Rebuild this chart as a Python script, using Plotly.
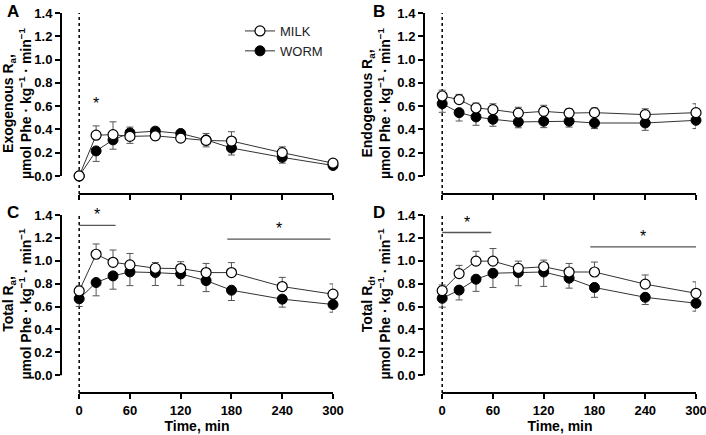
import plotly.graph_objects as go
from plotly.subplots import make_subplots

# Tempo (min)
times = [0, 20, 40, 60, 90, 120, 150, 180, 240, 300]

# A) Exogenous Ra
exo_milk = [0.00, 0.35, 0.355, 0.34, 0.345, 0.325, 0.305, 0.30, 0.20, 0.11]
exo_milk_up = [0, 0.08, 0.11, 0, 0, 0, 0.06, 0.08, 0.05, 0.03]
exo_milk_dn = [0, 0, 0, 0.06, 0.035, 0, 0, 0, 0, 0]
exo_worm = [0.00, 0.215, 0.31, 0.37, 0.385, 0.365, 0.31, 0.24, 0.16, 0.09]
exo_worm_up = [0, 0, 0, 0.05, 0, 0, 0, 0, 0, 0]
exo_worm_dn = [0, 0.09, 0.08, 0, 0, 0, 0.06, 0.06, 0.05, 0.03]

# B) Endogenous Ra
endo_milk = [0.687, 0.656, 0.584, 0.57, 0.54, 0.555, 0.54, 0.544, 0.527, 0.544]
endo_milk_up = [0.05, 0.045, 0.043, 0.05, 0.05, 0.052, 0.038, 0.04, 0.05, 0.076]
endo_worm = [0.621, 0.544, 0.507, 0.487, 0.464, 0.47, 0.47, 0.455, 0.455, 0.478]
endo_worm_dn = [0.074, 0.072, 0.072, 0.06, 0.05, 0.055, 0.05, 0.048, 0.063, 0.071]

# C) Total Ra
tra_milk = [0.737, 1.057, 0.987, 0.964, 0.935, 0.932, 0.897, 0.897, 0.775, 0.708]
tra_milk_up = [0.043, 0.09, 0.107, 0.10, 0.05, 0.06, 0.08, 0.087, 0.08, 0.09]
tra_worm = [0.668, 0.81, 0.868, 0.903, 0.897, 0.885, 0.827, 0.743, 0.665, 0.618]
tra_worm_dn = [0.067, 0.116, 0.116, 0.12, 0.113, 0.10, 0.096, 0.09, 0.07, 0.067]

# D) Total Rd
trd_milk = [0.739, 0.888, 0.997, 0.997, 0.934, 0.948, 0.902, 0.902, 0.796, 0.716]
trd_milk_up = [0.05, 0.072, 0.086, 0.11, 0.063, 0.058, 0.075, 0.087, 0.08, 0.10]
trd_worm = [0.672, 0.744, 0.839, 0.891, 0.897, 0.902, 0.848, 0.767, 0.681, 0.629]
trd_worm_dn = [0.077, 0.086, 0.106, 0.124, 0.115, 0.126, 0.087, 0.086, 0.063, 0.069]

# Significance bars: (x0, x1, y)
sig_C = [(0, 43, 1.31), (175, 297, 1.19)]
sig_D = [(0, 58, 1.247), (175, 300, 1.121)]
star_A = (20, 0.53)

ytitles = [
    "Exogenous R<sub>a</sub>,<br>µmol Phe · kg<sup>−1</sup> · min<sup>−1</sup>",
    "Endogenous R<sub>a</sub>,<br>µmol Phe · kg<sup>−1</sup> · min<sup>−1</sup>",
    "Total R<sub>a</sub>,<br>µmol Phe · kg<sup>−1</sup> · min<sup>−1</sup>",
    "Total R<sub>d</sub>,<br>µmol Phe · kg<sup>−1</sup> · min<sup>−1</sup>",
]

W, H = 706, 435
FONT = "Liberation Sans, Arial, sans-serif"

fig = make_subplots(rows=2, cols=2)

panels = [
    (1, 1, exo_milk, exo_milk_up, exo_milk_dn, exo_worm, exo_worm_up, exo_worm_dn),
    (1, 2, endo_milk, endo_milk_up, [0] * 10, endo_worm, [0] * 10, endo_worm_dn),
    (2, 1, tra_milk, tra_milk_up, [0] * 10, tra_worm, [0] * 10, tra_worm_dn),
    (2, 2, trd_milk, trd_milk_up, [0] * 10, trd_worm, [0] * 10, trd_worm_dn),
]

def err(up, dn):
    return dict(type="data", symmetric=False, array=up, arrayminus=dn,
                color="#555555", thickness=1, width=3.5)

for idx, (r, c, m, mu, md, w, wu, wd) in enumerate(panels):
    show = idx == 0
    fig.add_trace(go.Scatter(
        x=times, y=w, mode="lines+markers", name="WORM", showlegend=show,
        line=dict(color="#333333", width=1),
        marker=dict(symbol="circle", size=10, color="black", line=dict(color="black", width=1)),
        error_y=err(wu, wd), cliponaxis=False, legendrank=2,
    ), row=r, col=c)
    fig.add_trace(go.Scatter(
        x=times, y=m, mode="lines+markers", name="MILK", showlegend=show,
        line=dict(color="#333333", width=1),
        marker=dict(symbol="circle", size=10, color="white", line=dict(color="black", width=1.2)),
        error_y=err(mu, md), cliponaxis=False, legendrank=1,
    ), row=r, col=c)

# Domains (pixel based)
xdom_left = [61 / W, 333 / W]
xdom_right = [424 / W, 696 / W]
ydom_top = [1 - 194 / H, 1 - 13 / H]
ydom_bot = [1 - 393 / H, 1 - 215 / H]

axes = [("x", "y", xdom_left, ydom_top), ("x2", "y2", xdom_right, ydom_top),
        ("x3", "y3", xdom_left, ydom_bot), ("x4", "y4", xdom_right, ydom_bot)]

for i, (xa, ya, xd, yd) in enumerate(axes):
    bottom = i >= 2
    xkey = "xaxis" if xa == "x" else "xaxis" + xa[1:]
    ykey = "yaxis" if ya == "y" else "yaxis" + ya[1:]
    fig.layout[xkey].update(
        domain=xd, range=[-21.5, 300], tickvals=[0, 60, 120, 180, 240, 300],
        showticklabels=bottom, ticks="outside", ticklen=5, tickwidth=2, tickcolor="black",
        showgrid=False, zeroline=False, showline=False, automargin=False,
        ticklabeloverflow="allow",
        tickfont=dict(family=FONT, size=13, color="black", weight="bold"),
        title=dict(text="Time, min" if bottom else "", standoff=0,
                   font=dict(family=FONT, size=14, color="black", weight="bold")),
    )
    fig.layout[ykey].update(
        domain=yd, range=[-0.155, 1.4], tickvals=[0, 0.2, 0.4, 0.6, 0.8, 1.0, 1.2, 1.4],
        tickformat=".1f", ticks="outside", ticklen=5, tickwidth=2, tickcolor="black",
        showgrid=False, zeroline=False, showline=False, automargin=False,
        tickfont=dict(family=FONT, size=13, color="black", weight="bold"),
        title=dict(text=ytitles[i], standoff=3,
                   font=dict(family=FONT, size=14, color="black", weight="bold")),
    )
    xdref = xa + " domain"
    ydref = ya + " domain"
    # axis lines
    fig.add_shape(type="line", xref=xa, yref=ydref, x0=0, x1=300, y0=0, y1=0,
                  line=dict(color="black", width=2))
    fig.add_shape(type="line", xref=xdref, yref=ya, x0=0, x1=0, y0=0, y1=1.4,
                  line=dict(color="black", width=2))
    # dotted line at t=0
    fig.add_shape(type="line", xref=xa, yref=ydref, x0=0, x1=0, y0=0, y1=1.0,
                  line=dict(color="black", width=1.5, dash="dot"), layer="below")

for (x0, x1, y), (xa, ya) in [(s, ("x3", "y3")) for s in sig_C] + [(s, ("x4", "y4")) for s in sig_D]:
    fig.add_shape(type="line", xref=xa, yref=ya, x0=x0, x1=x1, y0=y, y1=y,
                  line=dict(color="#555555", width=1.3))
    fig.add_annotation(xref=xa, yref=ya, x=(x0 + x1) / 2, y=y, text="*", showarrow=False,
                       yanchor="bottom", font=dict(family=FONT, size=16, color="black"))

fig.add_annotation(xref="x", yref="y", x=star_A[0], y=star_A[1], text="*", showarrow=False,
                   yanchor="bottom", font=dict(family=FONT, size=16, color="black"))

for letter, x, y in [("A", 5, 0), ("B", 371, 0), ("C", 5, 201), ("D", 371, 201)]:
    fig.add_annotation(xref="paper", yref="paper", x=x / W, y=1 - y / H, text=letter,
                       showarrow=False, xanchor="left", yanchor="top",
                       font=dict(family=FONT, size=17, color="black", weight="bold"))

fig.update_layout(
    width=W, height=H,
    margin=dict(l=0, r=0, t=0, b=0),
    plot_bgcolor="white", paper_bgcolor="white",
    legend=dict(x=240 / W, y=1 - 16 / H, xanchor="left", yanchor="top",
                font=dict(family=FONT, size=13, color="#222222"),
                bgcolor="rgba(0,0,0,0)", itemwidth=30, tracegroupgap=2),
)

fig.write_html("out.html", config={"displayModeBar": False},
               post_script="document.body.style.margin='0';")
